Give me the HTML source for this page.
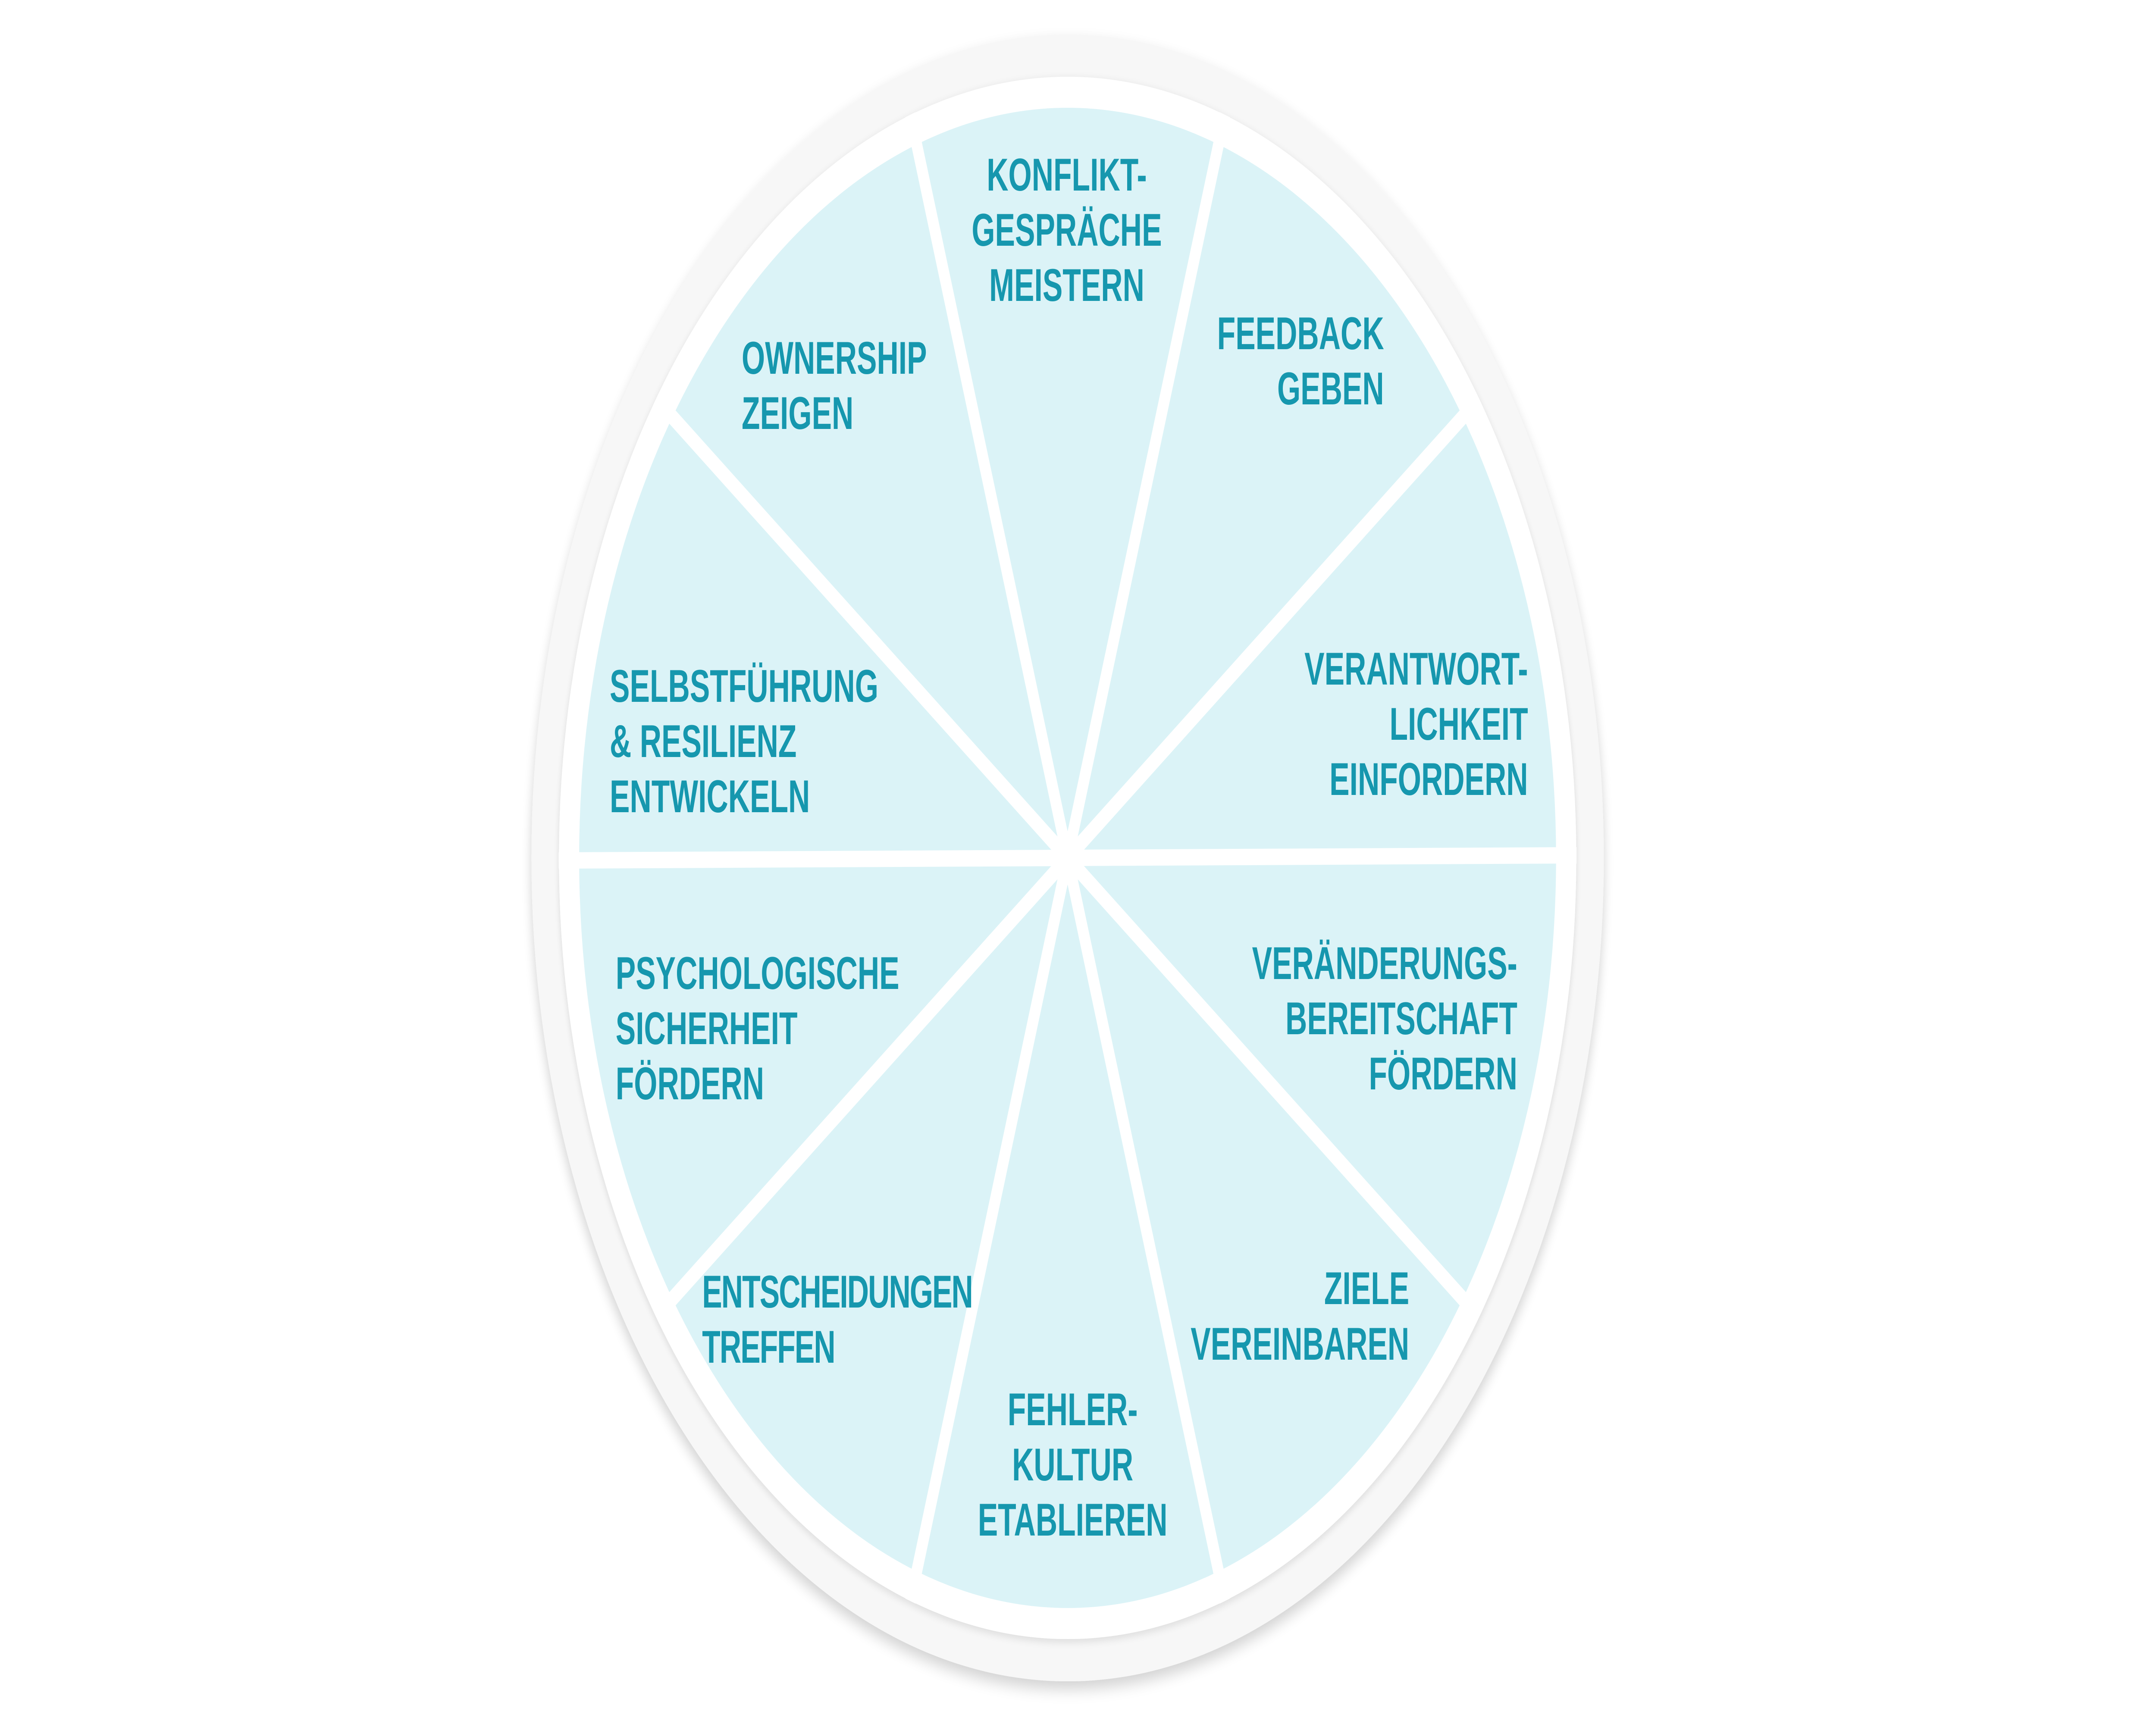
<!DOCTYPE html>
<html><head><meta charset="utf-8"><style>
html,body{margin:0;padding:0;background:#fff;width:100%;height:100%;overflow:hidden;}
svg{display:block;width:100vw;height:100vh;}
text{font-family:"Liberation Sans",sans-serif;font-weight:bold;font-size:107px;fill:#1697ae;}
</style></head><body>
<svg viewBox="0 0 7680 4006" preserveAspectRatio="none" xmlns="http://www.w3.org/2000/svg">
<defs>
<filter id="sh" x="-10%" y="-10%" width="120%" height="120%">
<feGaussianBlur in="SourceAlpha" stdDeviation="18"/>
<feOffset dy="18"/>
<feComponentTransfer><feFuncA type="linear" slope="0.18"/></feComponentTransfer>
<feMerge><feMergeNode/><feMergeNode in="SourceGraphic"/></feMerge>
</filter>
<filter id="sh2" x="-10%" y="-10%" width="120%" height="120%">
<feGaussianBlur in="SourceAlpha" stdDeviation="10"/>
<feOffset dy="6"/>
<feComponentTransfer><feFuncA type="linear" slope="0.12"/></feComponentTransfer>
<feMerge><feMergeNode/><feMergeNode in="SourceGraphic"/></feMerge>
</filter>
</defs>
<circle cx="3803" cy="1990" r="1910" fill="#f7f7f7" filter="url(#sh)"/>
<circle cx="3803" cy="1990" r="1812" fill="#ffffff" filter="url(#sh2)"/>
<circle cx="3803" cy="1990" r="1740" fill="#dbf3f7"/>
<g stroke="#ffffff" stroke-width="38">
<line x1="3803" y1="1990" x2="3243" y2="266"/>
<line x1="3803" y1="1990" x2="4363" y2="266"/>
<line x1="3803" y1="1990" x2="5269" y2="925"/>
<line x1="3803" y1="1990" x2="2337" y2="925"/>
<line x1="1990" y1="1996" x2="5616" y2="1984"/>
<line x1="3803" y1="1990" x2="5269" y2="3055"/>
<line x1="3803" y1="1990" x2="2337" y2="3055"/>
<line x1="3803" y1="1990" x2="3243" y2="3714"/>
<line x1="3803" y1="1990" x2="4363" y2="3714"/>
</g>
<g text-anchor="middle">
<text x="3800" y="442">KONFLIKT-</text>
<text x="3800" y="570">GESPRÄCHE</text>
<text x="3800" y="698">MEISTERN</text>
</g>
<g text-anchor="end">
<text x="4930" y="810">FEEDBACK</text>
<text x="4930" y="938">GEBEN</text>
</g>
<g>
<text x="2642" y="867">OWNERSHIP</text>
<text x="2642" y="995">ZEIGEN</text>
</g>
<g>
<text x="2172" y="1628">SELBSTFÜHRUNG</text>
<text x="2172" y="1756">&amp; RESILIENZ</text>
<text x="2172" y="1884">ENTWICKELN</text>
</g>
<g text-anchor="end">
<text x="5443" y="1588">VERANTWORT-</text>
<text x="5443" y="1716">LICHKEIT</text>
<text x="5443" y="1844">EINFORDERN</text>
</g>
<g>
<text x="2193" y="2294">PSYCHOLOGISCHE</text>
<text x="2193" y="2422">SICHERHEIT</text>
<text x="2193" y="2550">FÖRDERN</text>
</g>
<g text-anchor="end">
<text x="5405" y="2271">VERÄNDERUNGS-</text>
<text x="5405" y="2399">BEREITSCHAFT</text>
<text x="5405" y="2527">FÖRDERN</text>
</g>
<g>
<text x="2501" y="3033" letter-spacing="-3">ENTSCHEIDUNGEN</text>
<text x="2501" y="3161" letter-spacing="-3">TREFFEN</text>
</g>
<g text-anchor="end">
<text x="5020" y="3025">ZIELE</text>
<text x="5020" y="3154">VEREINBAREN</text>
</g>
<g text-anchor="middle">
<text x="3821" y="3306">FEHLER-</text>
<text x="3821" y="3434">KULTUR</text>
<text x="3821" y="3562">ETABLIEREN</text>
</g>
</svg>
</body></html>
